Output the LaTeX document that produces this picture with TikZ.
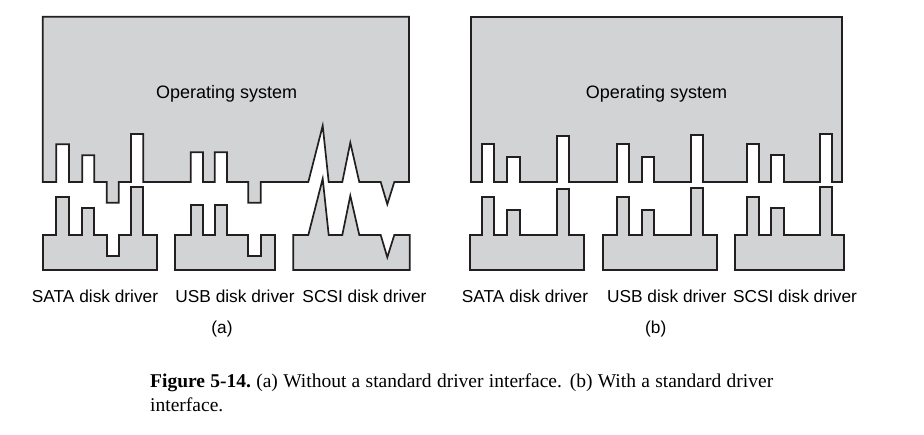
\documentclass[tikz,border=0pt]{standalone}
\usepackage{fontspec}
\setmainfont{Liberation Sans}
\newfontfamily\capfont{Liberation Serif}
\definecolor{partfill}{RGB}{209,211,212}
\definecolor{partline}{RGB}{35,31,32}
\begin{document}
\begin{tikzpicture}[x=1pt,y=-1pt,
  part/.style={draw=partline,fill=partfill,line width=1.7pt,line join=miter,miter limit=20},
  lbl/.style={font=\fontsize{17.3}{20}\selectfont,anchor=base,inner sep=0pt},
  ostext/.style={font=\fontsize{18}{21}\selectfont,anchor=base,inner sep=0pt},
  captext/.style={font=\capfont\fontsize{19.5}{23}\selectfont,anchor=base west,inner sep=0pt}]
\useasboundingbox (0,0) rectangle (924,434);

% ---------- (a) without a standard driver interface ----------
% operating system block
\draw[part] (42.7,16.7) -- (409,16.7) -- (409,182) -- (394.3,182) -- (387.3,204.3) -- (380.7,182)
  -- (359.3,182) -- (350.3,142.7) -- (342.3,182) -- (328.7,182) -- (322.7,125.7) -- (308.3,182)
  -- (260.7,182) -- (260.7,202.7) -- (248.3,202.7) -- (248.3,182) -- (227,182) -- (227,152.3)
  -- (214.7,152.3) -- (214.7,182) -- (203,182) -- (203,152.3) -- (190.7,152.3) -- (190.7,182)
  -- (143.3,182) -- (143.3,134) -- (131,134) -- (131,182) -- (118.7,182) -- (118.7,202.7)
  -- (106.7,202.7) -- (106.7,182) -- (94.3,182) -- (94.3,155.3) -- (82.3,155.3) -- (82.3,182)
  -- (69,182) -- (69,144.3) -- (56.3,144.3) -- (56.3,182) -- (42.7,182) -- cycle;
% SATA driver
\draw[part] (42.7,270) -- (42.7,235) -- (56.3,235) -- (56.3,197.3) -- (69,197.3) -- (69,235)
  -- (82.3,235) -- (82.3,208.3) -- (94.3,208.3) -- (94.3,235) -- (106.7,235) -- (106.7,255.7)
  -- (118.7,255.7) -- (118.7,235) -- (131,235) -- (131,187) -- (143.3,187) -- (143.3,235)
  -- (157,235) -- (157,270) -- cycle;
% USB driver
\draw[part] (175.3,270) -- (175.3,235) -- (190.7,235) -- (190.7,205.3) -- (203,205.3) -- (203,235)
  -- (214.7,235) -- (214.7,205.3) -- (227,205.3) -- (227,235) -- (248.3,235) -- (248.3,255.7)
  -- (260.7,255.7) -- (260.7,235) -- (275,235) -- (275,270) -- cycle;
% SCSI driver
\draw[part] (293.3,270) -- (293.3,235) -- (308.3,235) -- (322.7,178.7) -- (328.7,235)
  -- (342.3,235) -- (350.3,195.7) -- (359.3,235) -- (380.7,235) -- (387.3,257.3) -- (394.3,235)
  -- (409.7,235) -- (409.7,270) -- cycle;

\node[ostext] (osa) at (226.7,98.3) {Operating system};
\node[lbl] (sataa) at (95,302.7) {SATA disk driver};
\node[lbl] (usba) at (235,302.7) {USB disk driver};
\node[lbl] (scsia) at (364.5,302.7) {SCSI disk driver};
\node[lbl] (taga) at (222,333.3) {(a)};

% ---------- (b) with a standard driver interface ----------
% operating system block
\draw[part] (471.3,16.7) -- (842.3,16.7) -- (842.3,182) -- (832.3,182) -- (832.3,134.3)
  -- (820,134.3) -- (820,182) -- (783.7,182) -- (783.7,155) -- (771,155) -- (771,182)
  -- (759,182) -- (759,144) -- (746.7,144) -- (746.7,182) -- (703.3,182) -- (703.3,134.7)
  -- (690.7,134.7) -- (690.7,182) -- (654.3,182) -- (654.3,156.7) -- (641.7,156.7) -- (641.7,182)
  -- (629.3,182) -- (629.3,144) -- (616.7,144) -- (616.7,182) -- (569.3,182) -- (569.3,135.7)
  -- (557,135.7) -- (557,182) -- (520,182) -- (520,156.7) -- (507.3,156.7) -- (507.3,182)
  -- (494.3,182) -- (494.3,144) -- (482.3,144) -- (482.3,182) -- (471.3,182) -- cycle;
% SATA driver
\draw[part] (470,270) -- (470,235) -- (482.3,235) -- (482.3,197) -- (494.3,197) -- (494.3,235)
  -- (507.3,235) -- (507.3,209.7) -- (520,209.7) -- (520,235) -- (557,235) -- (557,188.7)
  -- (569.3,188.7) -- (569.3,235) -- (583.7,235) -- (583.7,270) -- cycle;
% USB driver
\draw[part] (602.7,270) -- (602.7,235) -- (616.7,235) -- (616.7,197) -- (629.3,197) -- (629.3,235)
  -- (641.7,235) -- (641.7,209.7) -- (654.3,209.7) -- (654.3,235) -- (690.7,235) -- (690.7,187.7)
  -- (703.3,187.7) -- (703.3,235) -- (716.7,235) -- (716.7,270) -- cycle;
% SCSI driver
\draw[part] (735,270) -- (735,235) -- (746.7,235) -- (746.7,197) -- (759,197) -- (759,235)
  -- (771,235) -- (771,208) -- (783.7,208) -- (783.7,235) -- (820,235) -- (820,187.3)
  -- (832.3,187.3) -- (832.3,235) -- (844.3,235) -- (844.3,270) -- cycle;

\node[ostext] (osb) at (656.5,98.3) {Operating system};
\node[lbl] (satab) at (525,302.7) {SATA disk driver};
\node[lbl] (usbb) at (666.7,302.7) {USB disk driver};
\node[lbl] (scsib) at (795,302.7) {SCSI disk driver};
\node[lbl] (tagb) at (655.7,333.3) {(b)};

% ---------- caption ----------
\node[captext] (cap1) at (150,387.5) {\makebox[623pt][s]{\textbf{Figure 5-14.}\ (a) Without a standard driver interface. (b) With a standard driver}};
\node[captext] (cap2) at (150,411) {interface.};
\end{tikzpicture}
\end{document}
